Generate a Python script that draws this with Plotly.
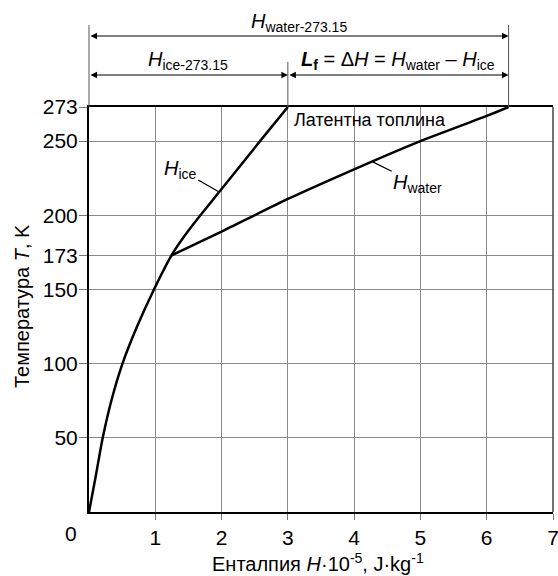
import plotly.graph_objects as go

# ---- data ----
ice_T = [0, 25, 50, 75, 100, 125, 150, 173, 186, 200, 216, 250, 273]
ice_H = [0.0, 0.105, 0.207, 0.337, 0.505, 0.725, 0.98, 1.245, 1.44, 1.68, 1.97, 2.58, 3.0]
water_T = [173, 189, 211, 231, 250, 267, 273]
water_H = [1.245, 2.0, 3.0, 4.0, 5.0, 6.0, 6.33]
y_ticks = [50, 100, 150, 173, 200, 250, 273]
x_ticks = [1, 2, 3, 4, 5, 6, 7]
x_max = 7
y_max = 273

FONT = "Liberation Sans"
W, H = 558, 576
L, R, T, B = 89, 5, 107, 64
pw = W - L - R
ph = H - T - B


def px(pix):
    return (pix - L) / pw


def py(pix):
    return (T + ph - pix) / ph


fig = go.Figure()
fig.add_trace(go.Scatter(x=ice_H, y=ice_T, mode="lines",
                         line=dict(color="black", width=2.5, shape="spline", smoothing=0.7),
                         hoverinfo="skip", showlegend=False, cliponaxis=False))
fig.add_trace(go.Scatter(x=water_H, y=water_T, mode="lines",
                         line=dict(color="black", width=2.5, shape="spline", smoothing=0.6),
                         hoverinfo="skip", showlegend=False, cliponaxis=False))

ice_end = ice_H[-1]
water_end = water_H[-1]

shapes = []
# right border
shapes.append(dict(type="line", xref="paper", yref="paper", x0=1, x1=1, y0=0, y1=1,
                   line=dict(color="#444", width=1.5)))
# dimension lines
for xv, ytop in [(0, 25), (ice_end, 62), (water_end, 25)]:
    shapes.append(dict(type="line", xref="paper", yref="paper", x0=xv / x_max, x1=xv / x_max,
                       y0=1, y1=py(ytop), line=dict(color="#555", width=1)))

annotations = []
# double-headed arrows
for x0, x1, ypix in [(0, water_end, 36), (0, ice_end, 75), (ice_end, water_end, 75)]:
    annotations.append(dict(xref="x", yref="paper", x=x1, y=py(ypix), axref="x", ayref="pixel",
                            ax=x0, ay=0, text="", showarrow=True, arrowhead=2, startarrowhead=2,
                            arrowside="end+start", arrowsize=1.3, startarrowsize=1.3,
                            arrowwidth=1, arrowcolor="black", standoff=0, startstandoff=0))

lab_font = dict(family=FONT, size=20, color="black")
annotations += [
    dict(xref="x", yref="paper", x=water_end / 2, y=py(23), text="<i>H</i><sub>water-273.15</sub>",
         showarrow=False, font=lab_font, xanchor="center", yanchor="middle"),
    dict(xref="x", yref="paper", x=ice_end / 2, y=py(61), text="<i>H</i><sub>ice-273.15</sub>",
         showarrow=False, font=lab_font, xanchor="center", yanchor="middle"),
    dict(xref="x", yref="paper", x=(ice_end + water_end) / 2, y=py(61),
         text="<b><i>L</i><sub>f</sub></b> = Δ<i>H</i> = <i>H</i><sub>water</sub> – <i>H</i><sub>ice</sub>",
         showarrow=False, font=lab_font, xanchor="center", yanchor="middle"),
    dict(xref="x", yref="y", x=ice_end, y=y_max, xshift=4, yshift=-13, text="Латентна топлина",
         showarrow=False, font=dict(family=FONT, size=18, color="black"), xanchor="left", yanchor="middle"),
    # curve labels with leaders
    dict(xref="x", yref="y", x=1.95, y=216, text="<i>H</i><sub>ice</sub>", showarrow=True,
         arrowhead=0, arrowwidth=1.2, arrowcolor="black", ax=-38, ay=-22, standoff=0,
         font=dict(family=FONT, size=20, color="black")),
    dict(xref="x", yref="y", x=4.28, y=236, text="<i>H</i><sub>water</sub>", showarrow=True,
         arrowhead=0, arrowwidth=1.2, arrowcolor="black", ax=45, ay=22, standoff=0,
         font=dict(family=FONT, size=20, color="black")),
    # zero label at corner
    dict(xref="paper", yref="paper", x=px(71), y=py(533), text="0", showarrow=False,
         font=dict(family=FONT, size=21, color="black"), xanchor="center", yanchor="middle"),
    # axis titles
    dict(xref="paper", yref="paper", x=px(318), y=py(562),
         text="Енталпия <i>H</i>·10<sup>-5</sup>, J·kg<sup>-1</sup>", showarrow=False,
         font=dict(family=FONT, size=20, color="black"), xanchor="center", yanchor="middle"),
    dict(xref="paper", yref="paper", x=px(22), y=py(306),
         text="Температура <i>T</i>, K", textangle=-90, showarrow=False,
         font=dict(family=FONT, size=20, color="black"), xanchor="center", yanchor="middle"),
]

fig.update_layout(
    width=W, height=H, margin=dict(l=L, r=R, t=T, b=B, autoexpand=False),
    paper_bgcolor="white", plot_bgcolor="white",
    shapes=shapes, annotations=annotations, showlegend=False,
    xaxis=dict(range=[0, x_max], tickvals=x_ticks, ticktext=[str(v) for v in x_ticks],
               showgrid=True, gridcolor="#8a8a8a", gridwidth=1, zeroline=False,
               showline=True, linecolor="black", linewidth=2, mirror=True,
               ticks="outside", ticklen=6, tickcolor="#777", tickwidth=1, automargin=False,
               ticklabeloverflow="allow",
               tickfont=dict(family=FONT, size=21, color="black"), fixedrange=True),
    yaxis=dict(range=[0, y_max], tickvals=y_ticks, ticktext=[str(v) for v in y_ticks],
               showgrid=True, gridcolor="#8a8a8a", gridwidth=1, zeroline=False,
               showline=True, linecolor="black", linewidth=2, automargin=False,
               ticks="outside", ticklen=8, tickcolor="#777", tickwidth=1,
               ticklabelstandoff=-3,
               tickfont=dict(family=FONT, size=21, color="black"), fixedrange=True),
)

fig.write_html("out.html", config={"displayModeBar": False},
               post_script="document.body.style.margin='0';document.body.style.overflow='hidden';")
